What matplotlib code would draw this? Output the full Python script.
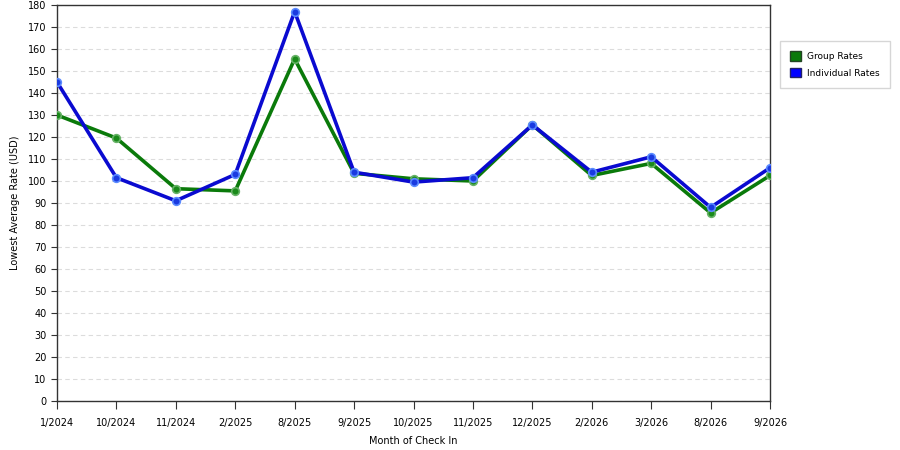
import matplotlib.pyplot as plt
from matplotlib.patches import Patch

months = ['1/2024', '10/2024', '11/2024', '2/2025', '8/2025', '9/2025', '10/2025',
          '11/2025', '12/2025', '2/2026', '3/2026', '8/2026', '9/2026']
group_rates = [130, 119.5, 96.5, 95.5, 155.5, 103.5, 101, 100, 125.5, 102.5, 108, 85.5, 102.5]
individual_rates = [145, 101.5, 91, 103, 177, 104, 99.5, 101.5, 125.5, 104, 111, 88, 106]
y_ticks = list(range(0, 181, 10))

plt.rcParams['font.family'] = 'DejaVu Sans'
fig = plt.figure(figsize=(9, 4.5), dpi=100)
ax = fig.add_axes([0.0633, 0.1089, 0.7923, 0.88])

x = list(range(len(months)))
ax.plot(x, group_rates, color='#0a7a0a', lw=2.6, marker='o', ms=5.5,
        mfc='#1a8a1a', mec='#66b266', mew=1.2, zorder=3)
ax.plot(x, individual_rates, color='#0a0ad0', lw=2.6, marker='o', ms=5.5,
        mfc='#1a3ae0', mec='#5a8aff', mew=1.2, zorder=4)

ax.set_xlim(0, len(months) - 1)
ax.set_ylim(0, 180)
ax.set_xticks(x)
ax.set_xticklabels(months, fontsize=7)
ax.set_yticks(y_ticks)
ax.tick_params(axis='y', labelsize=7, direction='out', length=4, color='#333333')
ax.tick_params(axis='x', direction='out', length=6, pad=6, color='#333333')
ax.grid(axis='y', linestyle=(0, (4, 3)), color='#dcdcdc', lw=0.8)
ax.set_axisbelow(True)
for s in ax.spines.values():
    s.set_color('#333333')
    s.set_linewidth(1)

ax.set_xlabel('Month of Check In', fontsize=7, labelpad=6)
ax.set_ylabel('Lowest Average Rate (USD)', fontsize=7, labelpad=6)

handles = [Patch(facecolor='#0a7a0a', edgecolor='#224422', label='Group Rates'),
           Patch(facecolor='#0000ff', edgecolor='#222266', label='Individual Rates')]
fig.legend(handles=handles, loc='upper left', bbox_to_anchor=(0.862, 0.918),
           fontsize=6.5, frameon=True, fancybox=False, edgecolor='#cccccc',
           handlelength=1.2, handleheight=1.2, borderpad=1.1, labelspacing=0.8,
           handletextpad=0.7)

plt.savefig('out.png', dpi=100)
